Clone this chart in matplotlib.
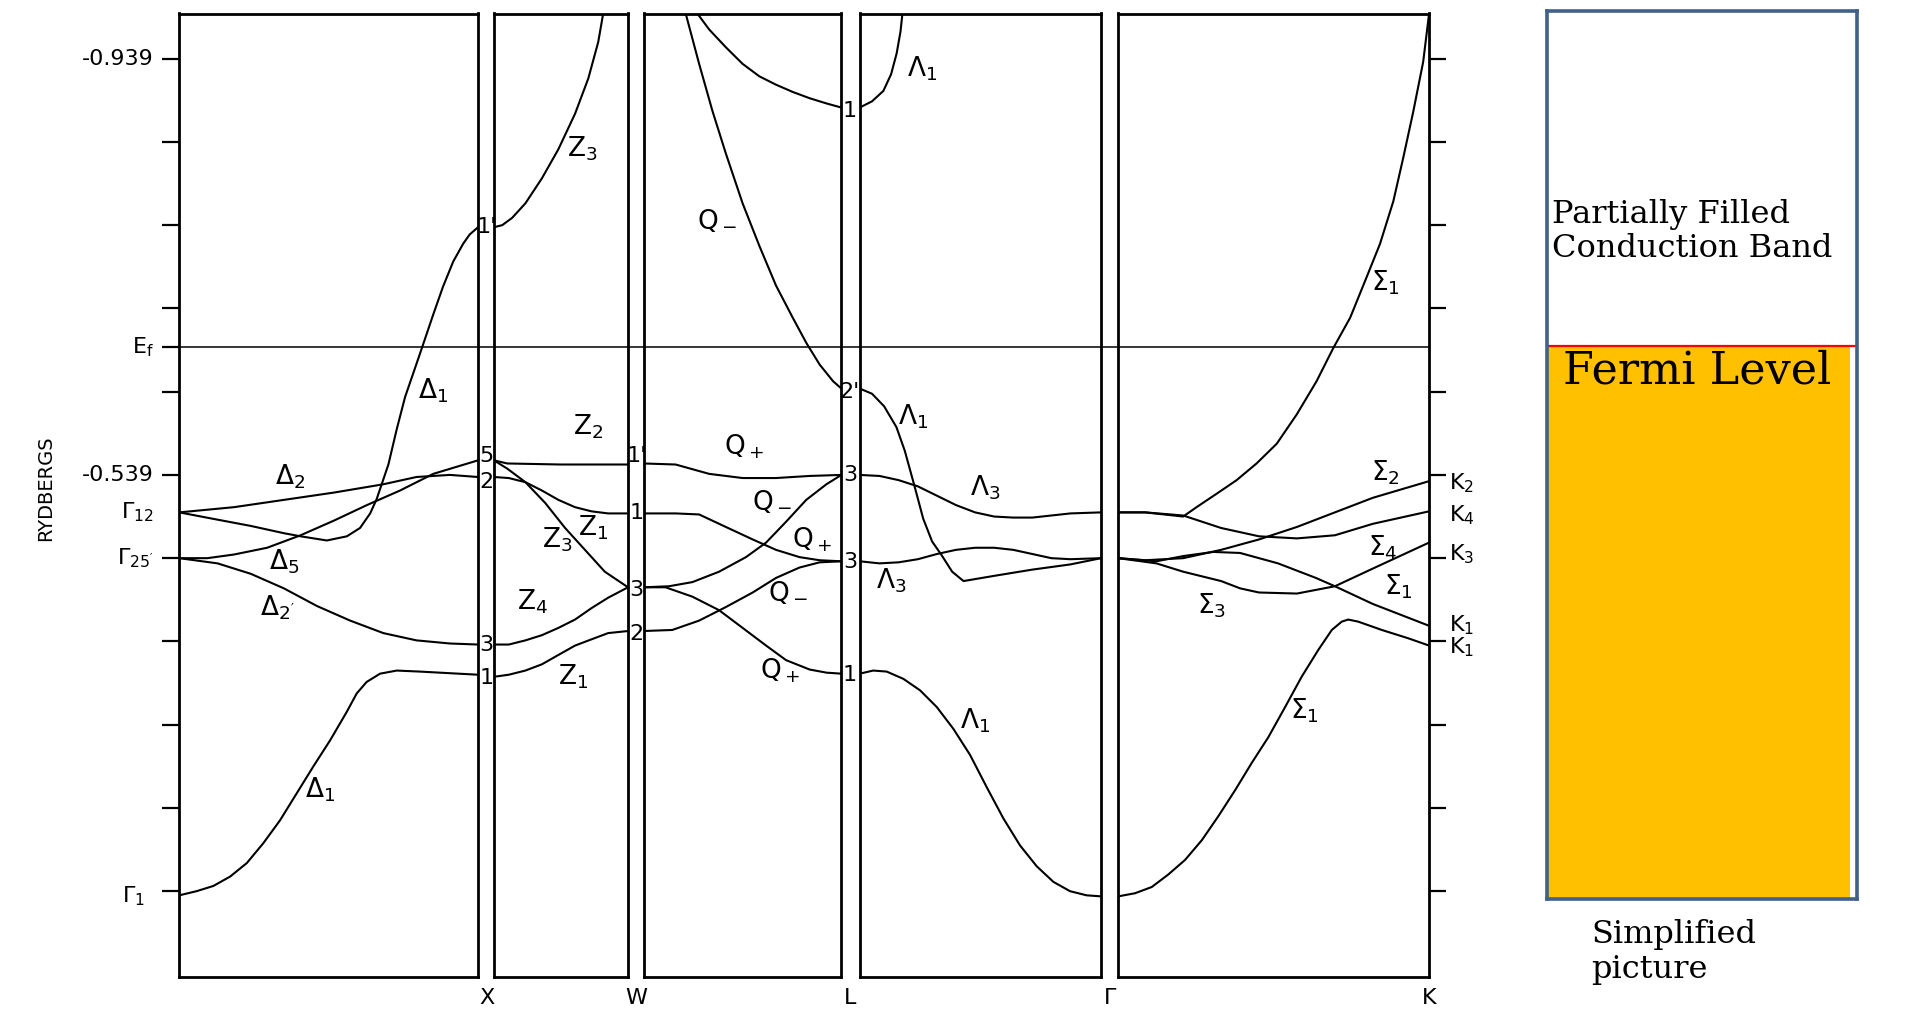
import matplotlib
matplotlib.use("Agg")
import matplotlib.pyplot as plt
from matplotlib import transforms

plt.rcParams['font.family'] = ['DejaVu Sans']
plt.rcParams['mathtext.default'] = 'regular'

# energy scale (Rydbergs)
E_TOP = -0.0956
E_BOT = -1.021
E_FERMI = -0.416
TICK_LEVELS = [-0.139, -0.219, -0.299, -0.379, -0.459, -0.539,
               -0.619, -0.699, -0.779, -0.859, -0.939]

# ---- Gamma -> X  (t = fraction along the path, E in Ry)
gx_delta1_low = ([0, 0.058, 0.114, 0.170, 0.226, 0.281, 0.337, 0.393, 0.449, 0.505, 0.560, 0.594, 0.627,
                  0.672, 0.728, 0.806, 1.0],
                 [-0.943, -0.939, -0.934, -0.925, -0.912, -0.893, -0.871, -0.845, -0.819, -0.794, -0.767, -0.749,
                  -0.738, -0.730, -0.727, -0.728, -0.731])
gx_delta2p = ([0, 0.128, 0.239, 0.35, 0.461, 0.572, 0.683, 0.794, 0.906, 1.0],
              [-0.619, -0.624, -0.634, -0.648, -0.665, -0.679, -0.691, -0.698, -0.701, -0.702])
gx_delta5 = ([0, 0.094, 0.183, 0.294, 0.406, 0.517, 0.628, 0.739, 0.85, 1.0],
             [-0.619, -0.619, -0.6155, -0.609, -0.597, -0.583, -0.568, -0.554, -0.538, -0.525])
gx_delta2 = ([0, 0.183, 0.35, 0.517, 0.683, 0.794, 0.906, 1.0],
             [-0.575, -0.570, -0.563, -0.556, -0.548, -0.541, -0.539, -0.541])
gx_delta1_up = ([0, 0.128, 0.239, 0.35, 0.406, 0.494, 0.561, 0.605, 0.639, 0.661, 0.7, 0.728,
                 0.756, 0.789, 0.817, 0.85, 0.883, 0.917, 0.95, 0.972, 1.0],
                [-0.575, -0.582, -0.588, -0.595, -0.598, -0.602, -0.598, -0.590, -0.576, -0.562, -0.529, -0.495,
                 -0.464, -0.4365, -0.413, -0.385, -0.358, -0.334, -0.317, -0.308, -0.301])
GX_BANDS = [gx_delta1_low, gx_delta2p, gx_delta5, gx_delta2, gx_delta1_up]

# ---- X -> W
xw_z3_up = ([0, 0.062, 0.136, 0.235, 0.358, 0.481, 0.605, 0.704, 0.778, 0.815],
            [-0.301, -0.299, -0.292, -0.278, -0.254, -0.226, -0.192, -0.158, -0.123, -0.0956])
xw_z2 = ([0, 0.1, 0.5, 1.0], [-0.525, -0.528, -0.529, -0.529])
xw_z3_dn = ([0, 0.1, 0.235, 0.383, 0.531, 0.679, 0.827, 1.0],
            [-0.525, -0.533, -0.546, -0.566, -0.590, -0.611, -0.632, -0.647])
xw_z1_up = ([0, 0.111, 0.235, 0.358, 0.481, 0.605, 0.728, 0.852, 1.0],
            [-0.541, -0.542, -0.546, -0.554, -0.563, -0.570, -0.574, -0.576, -0.576])
xw_z4 = ([0, 0.111, 0.235, 0.358, 0.481, 0.605, 0.728, 0.852, 1.0],
         [-0.702, -0.702, -0.698, -0.693, -0.686, -0.678, -0.667, -0.657, -0.647])
xw_z1_low = ([0, 0.111, 0.235, 0.358, 0.481, 0.605, 0.728, 0.852, 0.926, 1.0],
             [-0.733, -0.731, -0.727, -0.721, -0.712, -0.703, -0.697, -0.691, -0.690, -0.689])
XW_BANDS = [xw_z3_up, xw_z2, xw_z3_dn, xw_z1_up, xw_z4, xw_z1_low]

# ---- W -> L
wl_qplus_up = ([0, 0.161, 0.331, 0.5, 0.669, 0.839, 1.0],
               [-0.528, -0.529, -0.538, -0.542, -0.542, -0.540, -0.539])
wl_qminus_steep = ([0.212, 0.280, 0.347, 0.415, 0.5, 0.585, 0.669, 0.754, 0.822, 0.890, 0.958, 1.0],
                   [-0.0956, -0.144, -0.189, -0.230, -0.278, -0.319, -0.357, -0.388, -0.412, -0.433, -0.449, -0.456])
wl_top = ([0.271, 0.331, 0.415, 0.5, 0.585, 0.669, 0.754, 0.839, 0.924, 1.0],
          [-0.0956, -0.111, -0.128, -0.144, -0.156, -0.164, -0.171, -0.177, -0.182, -0.186])
wl_qminus_w1 = ([0, 0.161, 0.280, 0.415, 0.551, 0.669, 0.788, 0.890, 1.0],
                [-0.576, -0.576, -0.577, -0.589, -0.601, -0.611, -0.618, -0.621, -0.622])
wl_qplus_w3 = ([0, 0.127, 0.246, 0.381, 0.517, 0.619, 0.720, 0.822, 0.924, 1.0],
               [-0.647, -0.646, -0.642, -0.632, -0.618, -0.604, -0.584, -0.563, -0.548, -0.539])
wl_qminus_w2 = ([0, 0.144, 0.280, 0.415, 0.551, 0.669, 0.788, 0.890, 1.0],
                [-0.689, -0.688, -0.679, -0.666, -0.652, -0.638, -0.628, -0.623, -0.622])
wl_qplus_low = ([0, 0.110, 0.246, 0.381, 0.5, 0.619, 0.720, 0.839, 0.924, 1.0],
                [-0.647, -0.647, -0.656, -0.669, -0.686, -0.703, -0.717, -0.726, -0.729, -0.730])
WL_BANDS = [wl_qplus_up, wl_qminus_steep, wl_top, wl_qminus_w1, wl_qplus_w3, wl_qminus_w2, wl_qplus_low]

# ---- L -> Gamma
lg_lambda1_top = ([0, 0.051, 0.098, 0.130, 0.153, 0.169, 0.177],
                  [-0.186, -0.180, -0.170, -0.154, -0.134, -0.113, -0.0956])
lg_lambda1_mid = ([0, 0.051, 0.101, 0.152, 0.187, 0.225, 0.263, 0.300, 0.339, 0.383, 0.430, 0.557, 0.715, 0.873, 1.0],
                  [-0.456, -0.461, -0.473, -0.493, -0.516, -0.548, -0.581, -0.603, -0.616, -0.632, -0.641,
                   -0.636, -0.630, -0.625, -0.619])
lg_lambda3_up = ([0, 0.082, 0.161, 0.241, 0.320, 0.399, 0.478, 0.557, 0.636, 0.715, 0.794, 0.873, 1.0],
                 [-0.539, -0.540, -0.544, -0.550, -0.559, -0.568, -0.575, -0.579, -0.580, -0.580, -0.578, -0.576, -0.575])
lg_lambda3_low = ([0, 0.082, 0.161, 0.241, 0.320, 0.399, 0.478, 0.557, 0.636, 0.715, 0.794, 0.873, 1.0],
                  [-0.622, -0.624, -0.623, -0.620, -0.615, -0.611, -0.609, -0.609, -0.611, -0.615, -0.619, -0.620, -0.619])
lg_lambda1_low = ([0, 0.056, 0.112, 0.181, 0.250, 0.319, 0.388, 0.457, 0.526, 0.595, 0.664, 0.733, 0.802,
                   0.871, 0.940, 1.0],
                  [-0.730, -0.727, -0.728, -0.735, -0.746, -0.762, -0.783, -0.808, -0.839, -0.869, -0.895, -0.915,
                   -0.930, -0.939, -0.943, -0.944])
LG_BANDS = [lg_lambda1_top, lg_lambda1_mid, lg_lambda3_up, lg_lambda3_low, lg_lambda1_low]

# ---- Gamma -> K
gk_sigma1_up = ([0, 0.087, 0.209, 0.252, 0.317, 0.381, 0.445, 0.510, 0.574, 0.638, 0.692, 0.746,
                 0.799, 0.842, 0.885, 0.917, 0.949, 0.981, 1.0],
                [-0.575, -0.575, -0.579, -0.570, -0.557, -0.544, -0.528, -0.509, -0.481, -0.449, -0.417, -0.388,
                 -0.349, -0.317, -0.276, -0.234, -0.190, -0.142, -0.0956])
gk_sigma_k4 = ([0, 0.087, 0.209, 0.331, 0.453, 0.575, 0.697, 0.819, 1.0],
               [-0.575, -0.575, -0.578, -0.590, -0.598, -0.600, -0.597, -0.586, -0.574])
gk_sigma2 = ([0, 0.087, 0.209, 0.331, 0.453, 0.575, 0.697, 0.819, 1.0],
             [-0.619, -0.621, -0.619, -0.611, -0.601, -0.589, -0.575, -0.561, -0.545])
gk_sigma4 = ([0, 0.123, 0.209, 0.306, 0.392, 0.514, 0.636, 0.697, 0.819, 1.0],
             [-0.619, -0.622, -0.617, -0.613, -0.614, -0.624, -0.638, -0.646, -0.663, -0.684])
gk_sigma3 = ([0, 0.123, 0.209, 0.331, 0.392, 0.453, 0.575, 0.697, 0.819, 1.0],
             [-0.619, -0.624, -0.632, -0.641, -0.648, -0.652, -0.653, -0.646, -0.629, -0.604])
gk_sigma1_low = ([0, 0.054, 0.108, 0.161, 0.215, 0.269, 0.322, 0.376, 0.429, 0.483, 0.537, 0.590, 0.644,
                  0.687, 0.719, 0.740, 0.772, 0.848, 0.933, 1.0],
                 [-0.944, -0.941, -0.935, -0.923, -0.909, -0.890, -0.867, -0.842, -0.816, -0.791, -0.762, -0.733,
                  -0.707, -0.688, -0.680, -0.678, -0.680, -0.688, -0.696, -0.703])
GK_BANDS = [gk_sigma1_up, gk_sigma_k4, gk_sigma2, gk_sigma4, gk_sigma3, gk_sigma1_low]

# ---- band labels (t, E, text)
GX_LABELS = [(0.85, -0.458, r'$\Delta_1$'), (0.37, -0.541, r'$\Delta_2$'), (0.35, -0.622, r'$\Delta_5$'),
             (0.33, -0.667, r"$\Delta_{2'}$"), (0.47, -0.842, r'$\Delta_1$')]
XW_LABELS = [(0.66, -0.226, r'$Z_3$'), (0.70, -0.493, r'$Z_2$'), (0.74, -0.590, r'$Z_1$'),
             (0.47, -0.601, r'$Z_3$'), (0.29, -0.661, r'$Z_4$'), (0.59, -0.733, r'$Z_1$')]
WL_LABELS = [(0.37, -0.295, r'$Q_-$'), (0.51, -0.512, r'$Q_+$'), (0.65, -0.565, r'$Q_-$'),
             (0.85, -0.601, r'$Q_+$'), (0.73, -0.652, r'$Q_-$'), (0.69, -0.727, r'$Q_+$')]
LG_LABELS = [(0.26, -0.149, r'$\Lambda_1$'), (0.22, -0.483, r'$\Lambda_1$'), (0.52, -0.551, r'$\Lambda_3$'),
             (0.13, -0.641, r'$\Lambda_3$'), (0.48, -0.775, r'$\Lambda_1$')]
GK_LABELS = [(0.86, -0.354, r'$\Sigma_1$'), (0.86, -0.537, r'$\Sigma_2$'), (0.85, -0.609, r'$\Sigma_4$'),
             (0.90, -0.646, r'$\Sigma_1$'), (0.30, -0.665, r'$\Sigma_3$'), (0.60, -0.766, r'$\Sigma_1$')]

# symmetry point representations at the panel ends
X_POINTS = [(-0.301, "1'"), (-0.521, "5"), (-0.546, "2"), (-0.702, "3"), (-0.734, "1")]
W_POINTS = [(-0.521, "1'"), (-0.576, "1"), (-0.650, "3"), (-0.692, "2")]
L_POINTS = [(-0.189, "1"), (-0.459, "2'"), (-0.539, "3"), (-0.623, "3"), (-0.731, "1")]
K_POINTS = [(-0.547, r'$K_2$'), (-0.578, r'$K_4$'), (-0.615, r'$K_3$'), (-0.683, r'$K_1$'), (-0.705, r'$K_1$')]
LEFT_LABELS = [(-0.139, '-0.939'), (E_FERMI, r'$E_f$'), (-0.539, '-0.539'),
               (-0.575, r'$\Gamma_{12}$'), (-0.619, r"$\Gamma_{25'}$"), (-0.944, r'$\Gamma_1$')]

# simplified picture
BAND_BOTTOM = -0.946
BAND_TOP = -0.0944

W, H = 1912, 1019
fig = plt.figure(figsize=(W / 100, H / 100), dpi=100)


def rect(x0, x1, y0=13.5, y1=976.5):
    return [x0 / W, 1 - y1 / H, (x1 - x0) / W, (y1 - y0) / H]


# background axis for the Fermi line running through all panels
ax_bg = fig.add_axes(rect(179.3, 1429.1))
ax_bg.set_xlim(0, 1)
ax_bg.set_ylim(E_BOT, E_TOP)
ax_bg.axhline(E_FERMI, color='black', lw=1.1)
ax_bg.axis('off')

panels = [
    ((179.3, 478.0), GX_BANDS, GX_LABELS),
    ((493.9, 628.0), XW_BANDS, XW_LABELS),
    ((643.8, 841.4), WL_BANDS, WL_LABELS),
    ((859.7, 1101.1), LG_BANDS, LG_LABELS),
    ((1118.2, 1429.1), GK_BANDS, GK_LABELS),
]
axes = []
for (x0, x1), bands, labels in panels:
    ax = fig.add_axes(rect(x0, x1))
    ax.set_facecolor('none')
    ax.set_xlim(0, 1)
    ax.set_ylim(E_BOT, E_TOP)
    ax.set_xticks([])
    ax.set_yticks([])
    for s in ax.spines.values():
        s.set_linewidth(2.0)
    for t, e in bands:
        ax.plot(t, e, color='black', lw=1.5, solid_capstyle='round', solid_joinstyle='round')
    for t, e, txt in labels:
        ax.text(t, e, txt, fontsize=19, ha='center', va='center')
    axes.append(ax)

ax1, ax2, ax3, ax4, ax5 = axes

# left axis ticks and labels
ax1.set_yticks(TICK_LEVELS + [E_FERMI])
ax1.tick_params(axis='y', direction='out', length=12, width=1.6, labelleft=False)
yl = transforms.blended_transform_factory(ax1.transAxes, ax1.transData)
for e, txt in LEFT_LABELS:
    xpos = -0.115 if txt == r'$\Gamma_1$' else -0.085
    ax1.text(xpos, e, txt, transform=yl, ha='right', va='center', fontsize=16)
fig.text(46 / W, 1 - 488 / H, 'RYDBERGS', rotation=90, ha='center', va='center', fontsize=14)

# right axis ticks and K labels
ax5.yaxis.tick_right()
ax5.set_yticks(TICK_LEVELS)
ax5.tick_params(axis='y', direction='out', length=12, width=1.6, labelright=False)
yr = transforms.blended_transform_factory(ax5.transAxes, ax5.transData)
for e, txt in K_POINTS:
    ax5.text(1.065, e, txt, transform=yr, ha='left', va='center', fontsize=16)

# representation numbers at X, W, L
for ax, xpos, pts in [(ax1, 1.0285, X_POINTS), (ax2, 1.063, W_POINTS), (ax3, 1.043, L_POINTS)]:
    tr = transforms.blended_transform_factory(ax.transAxes, ax.transData)
    for e, txt in pts:
        ax.text(xpos, e, txt, transform=tr, ha='center', va='center', fontsize=16)

# symmetry point names below the panels
for ax, xpos, txt in [(ax1, 1.0285, 'X'), (ax2, 1.063, 'W'), (ax3, 1.043, 'L'),
                      (ax4, 1.0356, r'$\Gamma$'), (ax5, 1.0, 'K')]:
    ax.text(xpos, -0.022, txt, transform=ax.transAxes, ha='center', va='center', fontsize=16)

# simplified picture
axs = fig.add_axes(rect(1547.4, 1857.2, 11, 898.7))
axs.set_xlim(0, 1)
axs.set_ylim(BAND_BOTTOM, BAND_TOP)
axs.set_xticks([])
axs.set_yticks([])
for s in axs.spines.values():
    s.set_linewidth(2.6)
    s.set_color('#41608A')
axs.fill_between([0, 0.976], BAND_BOTTOM, E_FERMI, color='#FFC000', lw=0)
axs.axhline(E_FERMI, color='#FF0000', lw=1.6)
axs.text(0.016, -0.306, 'Partially Filled\nConduction Band', ha='left', va='center',
         fontsize=23, family='DejaVu Serif', linespacing=1.15)
axs.text(0.484, -0.440, 'Fermi Level', ha='center', va='center', fontsize=32, family='DejaVu Serif')
axs.text(0.142, -0.06, 'Simplified\npicture', transform=axs.transAxes, ha='left', va='center',
         fontsize=23, family='DejaVu Serif', linespacing=1.15)

fig.savefig('out.png', dpi=100)
